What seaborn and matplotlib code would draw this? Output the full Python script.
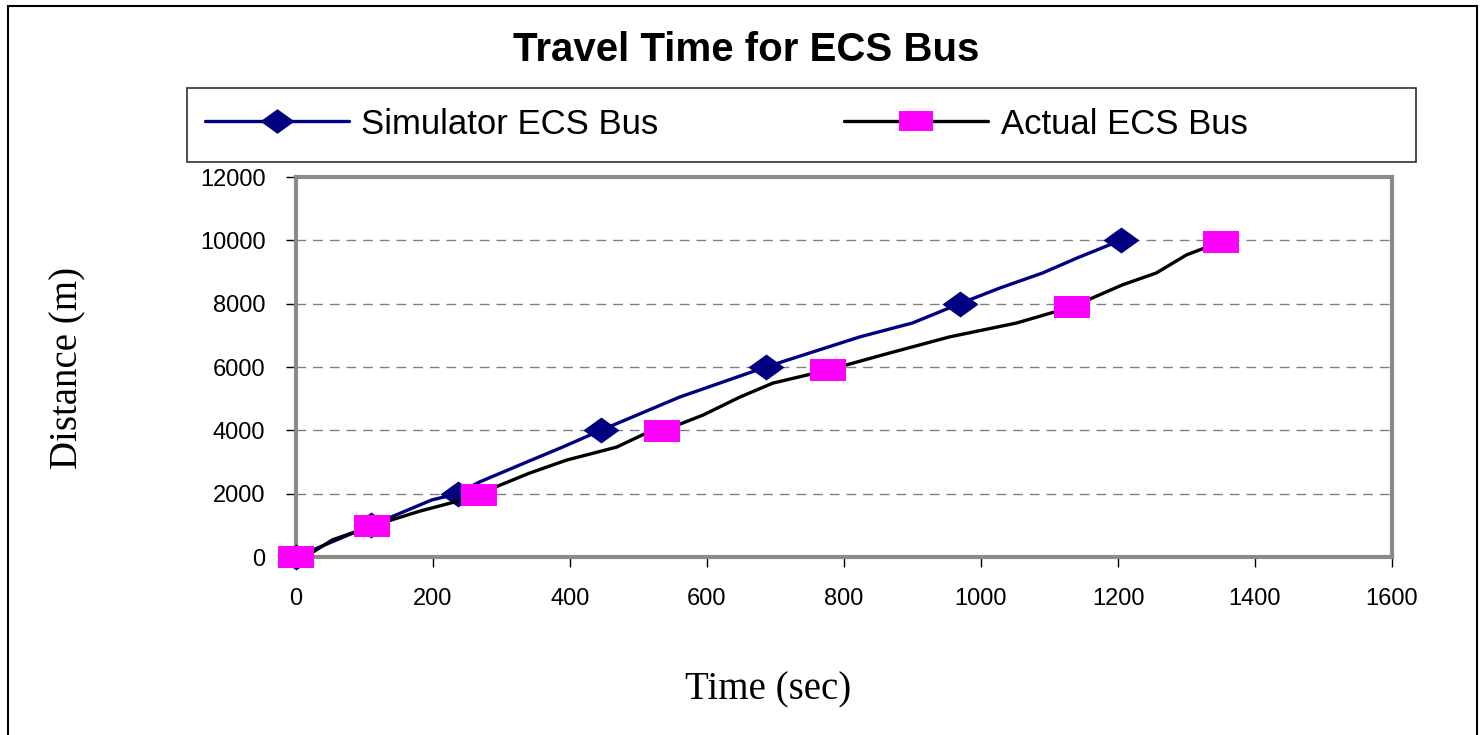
import matplotlib
matplotlib.use("Agg")
import matplotlib.pyplot as plt
from matplotlib.patches import Rectangle
import seaborn as sns
import pandas as pd

# ---- data ----
sim_time = [0, 110, 198, 236, 268, 337, 389, 445, 560, 686, 823, 900, 969, 1027, 1090, 1140, 1204]
sim_dist = [0, 1000, 1800, 2000, 2370, 3000, 3470, 4000, 5050, 6000, 6950, 7390, 8000, 8490, 8970, 9440, 10000]
sim_marked = [0, 1, 3, 7, 9, 12, 16]

act_time = [0, 25, 53, 111, 181, 232, 267, 298, 341, 395, 468, 512, 535, 594, 648, 696, 776,
            856, 954, 1052, 1133, 1206, 1256, 1300, 1351]
act_dist = [0, 160, 540, 980, 1450, 1740, 1970, 2270, 2650, 3060, 3470, 3920, 3980, 4480, 5050,
            5490, 5900, 6380, 6950, 7390, 7900, 8590, 8970, 9540, 9960]
act_marked = [0, 3, 6, 12, 16, 20, 24]

x_ticks = [0, 200, 400, 600, 800, 1000, 1200, 1400, 1600]
y_ticks = [0, 2000, 4000, 6000, 8000, 10000, 12000]

title = "Travel Time for ECS Bus"
series_names = ["Simulator ECS Bus", "Actual ECS Bus"]
x_label = "Time (sec)"
y_label = "Distance (m)"

sim_df = pd.DataFrame({"time": sim_time, "dist": sim_dist})
act_df = pd.DataFrame({"time": act_time, "dist": act_dist})

sns.set_theme(style="white")
plt.rcParams["font.family"] = ["Liberation Sans", "DejaVu Sans"]
plt.rcParams["text.color"] = "black"
plt.rcParams["axes.labelcolor"] = "black"
plt.rcParams["xtick.color"] = "black"
plt.rcParams["ytick.color"] = "black"

fig = plt.figure(figsize=(14.8, 7.35), dpi=100)
ax = fig.add_axes([296 / 1480, 1 - 557 / 735, (1392 - 296) / 1480, (557 - 177) / 735])

diamond = [(-1, 0), (0, 0.72), (1, 0), (0, -0.72)]
rect = [(-1, -0.6), (1, -0.6), (1, 0.6), (-1, 0.6)]

sns.lineplot(data=sim_df, x="time", y="dist", ax=ax, sort=False, estimator=None,
             color="#000080", linewidth=2.4, marker=diamond, markersize=26,
             markevery=sim_marked, markerfacecolor="#000080", markeredgewidth=0,
             label=series_names[0], clip_on=False, zorder=3)
sns.lineplot(data=act_df, x="time", y="dist", ax=ax, sort=False, estimator=None,
             color="black", linewidth=2.4, marker=rect, markersize=26,
             markevery=act_marked, markerfacecolor="#FF00FF", markeredgewidth=0,
             label=series_names[1], clip_on=False, zorder=4)

ax.set_xlim(0, 1600)
ax.set_ylim(0, 12000)
ax.set_xticks(x_ticks)
ax.set_yticks(y_ticks)
ax.set_xticklabels([str(v) for v in x_ticks])
ax.set_yticklabels([str(v) for v in y_ticks])
ax.tick_params(axis="both", which="major", labelsize=17, length=7, width=1,
               color="black", direction="out", pad=15, labelcolor="black")
ax.tick_params(left=True, bottom=True)

ax.yaxis.grid(True, color="#808080", linestyle=(0, (7, 5)), linewidth=1)
ax.xaxis.grid(False)
ax.set_axisbelow(True)
for side in ["left", "right", "top", "bottom"]:
    ax.spines[side].set_visible(True)
    ax.spines[side].set_color("#8a8a8a")
    ax.spines[side].set_linewidth(3.0)
# thin dark axis lines on top of the grey plot-area border
ax.axvline(0, color="#202020", linewidth=1.0, zorder=2.5, clip_on=False)
ax.axhline(0, color="#202020", linewidth=1.0, zorder=2.5, clip_on=False)

ax.set_xlabel("")
ax.set_ylabel("")
if ax.get_legend():
    ax.get_legend().remove()

# axis titles
fig.text(768 / 1480, 1 - 690 / 735, x_label, ha="center", va="center",
         fontsize=28, family=["Liberation Serif", "DejaVu Serif"], color="black")
fig.text(68 / 1480, 1 - 368 / 735, y_label, ha="center", va="center", rotation=90,
         fontsize=28, family=["Liberation Serif", "DejaVu Serif"], color="black")

# chart title
fig.text(746 / 1480, 1 - 50 / 735, title, ha="center", va="center",
         fontsize=29, fontweight="bold", color="black")

# legend box
fig.patches.append(Rectangle((187 / 1480, 1 - 162 / 735), (1416 - 187) / 1480, (162 - 88) / 735,
                             transform=fig.transFigure, facecolor="white",
                             edgecolor="#303030", linewidth=1.2, zorder=1))
# legend entries
handles = ax.get_lines()[:2]
leg = fig.legend(handles=handles, labels=series_names, ncol=2,
                 loc="center left", bbox_to_anchor=(205 / 1480, 1 - 124 / 735),
                 fontsize=25, handlelength=4.15, handletextpad=0.35,
                 columnspacing=5.35, frameon=False, borderaxespad=0,
                 borderpad=0, markerscale=0.95)
leg.set_zorder(2)

# outer chart frame
fig.patches.append(Rectangle((8 / 1480, -0.01), (1477 - 8) / 1480, 1.01 - 6 / 735,
                             transform=fig.transFigure, fill=False,
                             edgecolor="black", linewidth=1.5))

fig.savefig("out.png", dpi=100)
